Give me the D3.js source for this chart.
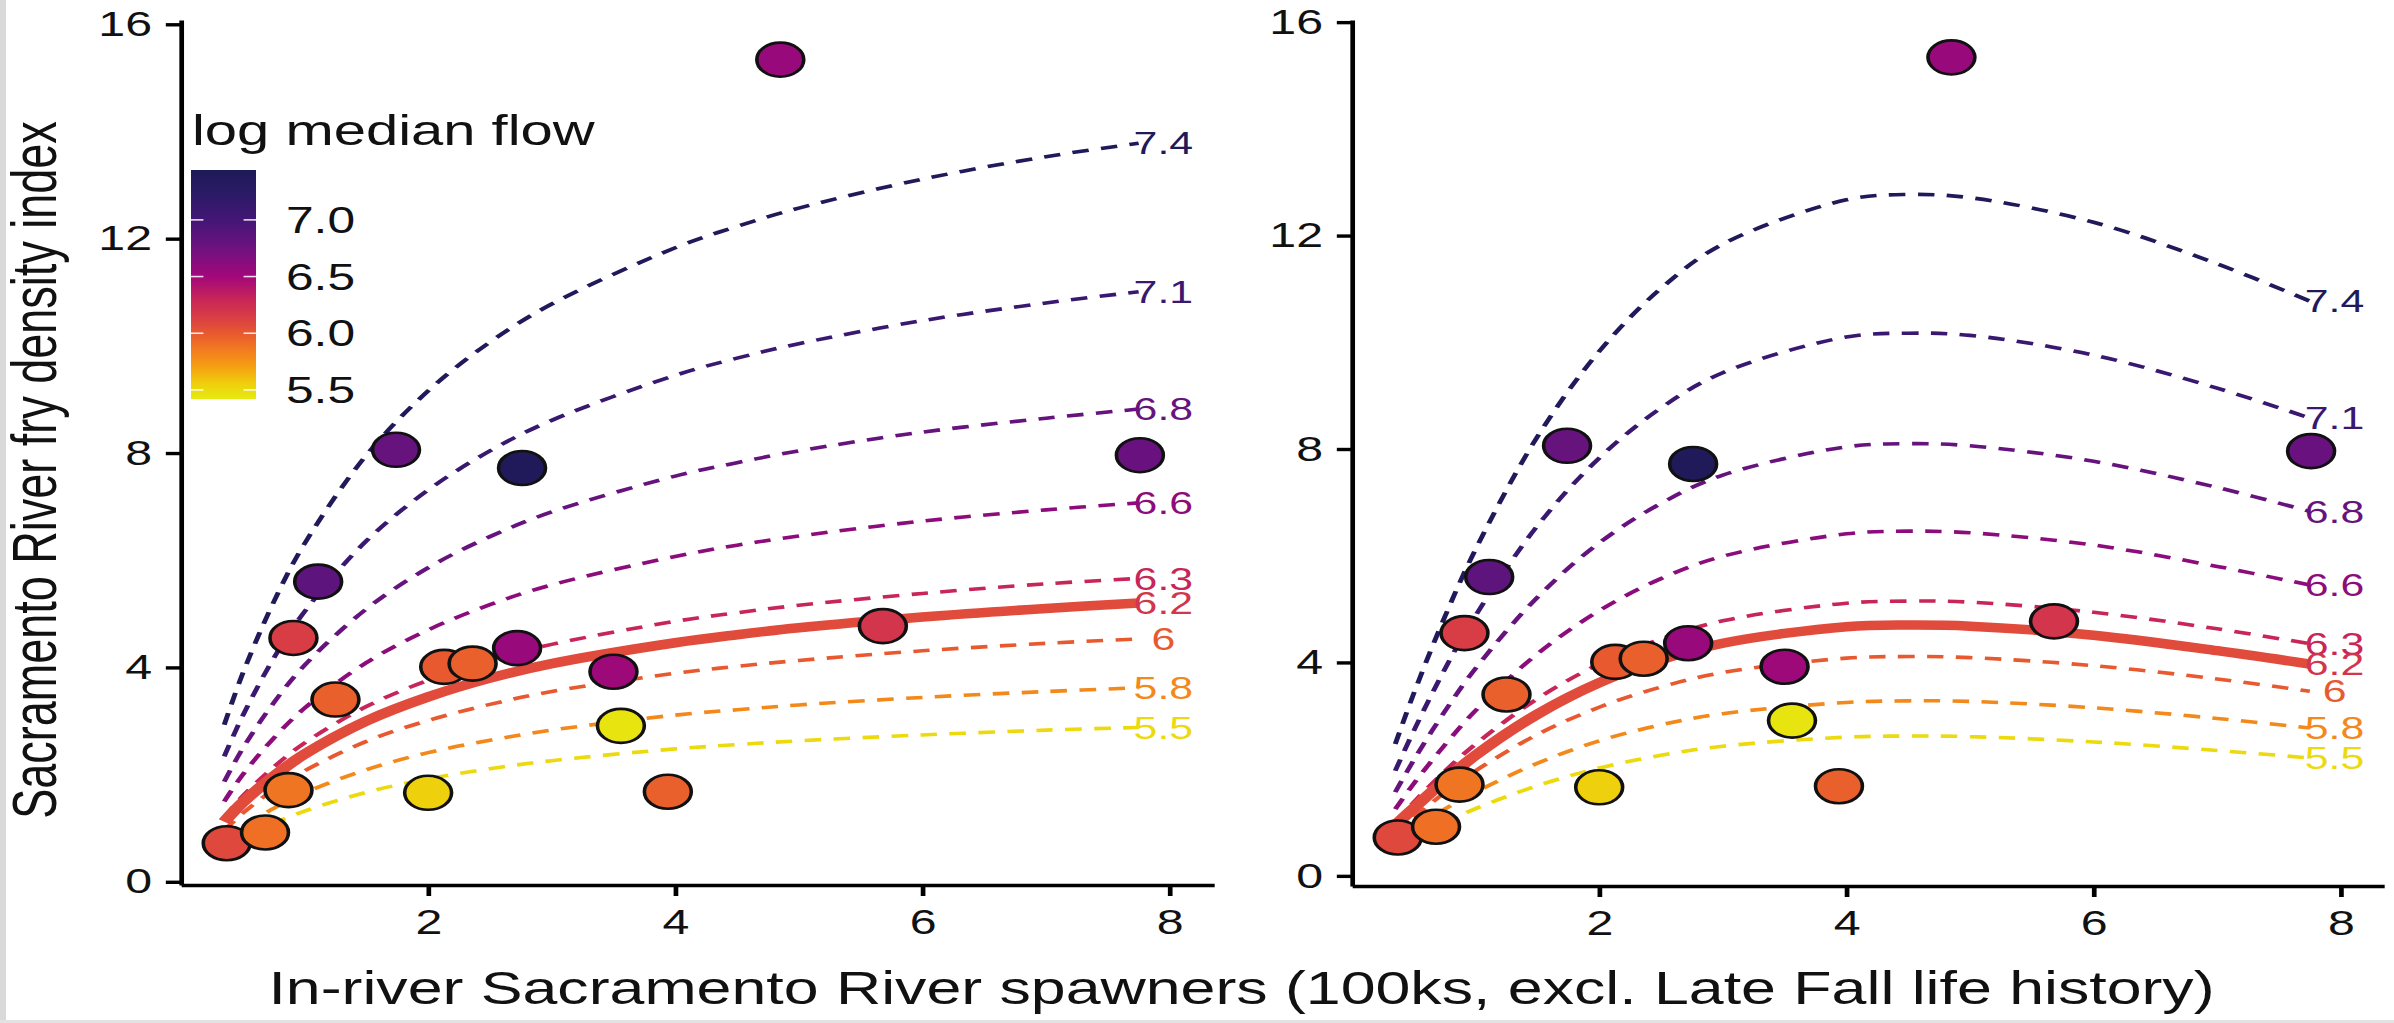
<!DOCTYPE html>
<html><head><meta charset="utf-8">
<script src="https://cdn.jsdelivr.net/npm/d3@7"></script>
<style>
html,body{margin:0;padding:0;background:#fff;overflow:hidden}
svg{display:block}
text{font-family:"Liberation Sans", Arial, Helvetica, sans-serif}
</style></head><body>
<svg id="chart"></svg>
<script>
// ---------------- DATA ----------------
// observed points (x: in-river spawners, 100ks; y: fry density index; colour: log median flow)
const spawners   = [0.37,0.68,0.87,0.91,1.11,1.25,1.74,2.76,2.00,2.13,2.36,2.72,3.50,3.56,3.94,5.68,7.76,4.85];
const fryDensity = [0.72,0.92,1.71,4.55,5.60,3.40,8.06,7.72,1.66,4.01,4.07,4.36,3.92,2.91,1.68,4.77,7.96,15.34];
const logFlow    = [6.08,5.90,5.88,6.15,6.85,5.97,6.80,7.40,5.55,6.00,5.97,6.55,6.52,5.45,5.97,6.20,6.78,6.55];

// fitted curves (sampled read-off values)
const curveX = [0.35,0.5,0.75,1,1.5,2,2.5,3,4,4.5,5,6,7,7.75];
const curveFlows = ["7.4","7.1","6.8","6.6","6.3","6.2","6","5.8","5.5"];
const medianFlow = "6.2";
const leftCurves = [
  [2.93,3.89,5.22,6.31,7.96,9.16,10.07,10.78,11.83,12.23,12.57,13.11,13.53,13.78],
  [2.34,3.10,4.17,5.04,6.36,7.31,8.04,8.61,9.45,9.77,10.04,10.47,10.80,11.01],
  [1.87,2.49,3.34,4.04,5.09,5.86,6.44,6.90,7.57,7.82,8.04,8.39,8.65,8.82],
  [1.50,2.00,2.68,3.24,4.09,4.70,5.17,5.54,6.07,6.28,6.45,6.73,6.94,7.07],
  [1.20,1.60,2.14,2.59,3.27,3.76,4.14,4.43,4.86,5.02,5.16,5.38,5.56,5.66],
  [1.12,1.48,1.97,2.38,3.00,3.45,3.80,4.07,4.46,4.61,4.74,4.94,5.10,5.20],
  [0.96,1.28,1.72,2.07,2.62,3.01,3.31,3.55,3.89,4.02,4.13,4.31,4.45,4.53],
  [0.77,1.02,1.37,1.66,2.09,2.41,2.64,2.83,3.11,3.21,3.30,3.44,3.55,3.62],
  [0.61,0.81,1.09,1.32,1.67,1.92,2.11,2.26,2.48,2.56,2.63,2.74,2.83,2.88]
];
const rightCurves = [
  [2.47,3.42,4.85,6.12,8.23,9.83,11.01,11.84,12.67,12.77,12.71,12.25,11.47,10.77],
  [1.97,2.72,3.87,4.88,6.56,7.83,8.77,9.43,10.10,10.17,10.13,9.76,9.14,8.58],
  [1.57,2.17,3.08,3.89,5.22,6.24,6.98,7.51,8.04,8.10,8.06,7.77,7.28,6.83],
  [1.25,1.73,2.45,3.10,4.16,4.97,5.57,5.99,6.41,6.46,6.43,6.20,5.80,5.45],
  [1.00,1.38,1.96,2.47,3.32,3.97,4.44,4.78,5.11,5.15,5.13,4.94,4.63,4.35],
  [0.95,1.27,1.79,2.26,3.03,3.62,4.05,4.36,4.67,4.70,4.68,4.51,4.22,3.97],
  [0.80,1.10,1.56,1.97,2.65,3.16,3.54,3.81,4.08,4.11,4.09,3.94,3.69,3.46],
  [0.64,0.88,1.25,1.57,2.11,2.53,2.83,3.04,3.25,3.28,3.27,3.15,2.95,2.77],
  [0.51,0.70,1.00,1.26,1.69,2.02,2.26,2.43,2.60,2.62,2.61,2.51,2.35,2.21]
];

const yTicks = [0,4,8,12,16];
const xTicks = [2,4,6,8];
const legendTicks = [5.5,6.0,6.5,7.0];
const legendTitle = "log median flow";
const xTitle = "In-river Sacramento River spawners (100ks, excl. Late Fall life history)";
const yTitle = "Sacramento River fry density index";

// colour ramp for log median flow
const flowStops  = [5.42,5.55,5.70,5.85,6.00,6.10,6.30,6.50,6.75,7.00,7.20,7.44];
const flowColors = ["#e6ea10","#efd00c","#f6a011","#f27c20","#e8592f","#dd4540","#c82558","#a2087a","#6e1280","#441676","#2e1a68","#1d1a58"];

// ---------------- LAYOUT ----------------
const W = 2394, H = 1023, S = 1.38;   // reference is horizontally stretched by S
const VW = W / S;
const svg = d3.select("#chart").attr("width", W).attr("height", H)
  .attr("viewBox", `0 0 ${VW} ${H}`).attr("preserveAspectRatio", "none");

svg.append("rect").attr("width", VW).attr("height", H).attr("fill", "#fff");
svg.append("rect").attr("x", 0).attr("y", 0).attr("width", 6 / S).attr("height", H).attr("fill", "#d9d9d9");
svg.append("rect").attr("x", 0).attr("y", 1020).attr("width", VW).attr("height", 3).attr("fill", "#e2e2e2");

const color = d3.scaleLinear().domain(flowStops).range(flowColors).interpolate(d3.interpolateRgb).clamp(true);

const panels = [
  { curves: leftCurves,
    x: d3.scaleLinear().domain([0, 8.36]).range([181 / S, 1214 / S]),
    y: d3.scaleLinear().domain([-0.06, 16.08]).range([885, 20]), legend: true },
  { curves: rightCurves,
    x: d3.scaleLinear().domain([0, 8.35]).range([1352 / S, 2384 / S]),
    y: d3.scaleLinear().domain([-0.19, 16.04]).range([886, 20]), legend: false }
];

const FONT = "Liberation Sans, Arial, sans-serif";

panels.forEach(p => {
  const g = svg.append("g");
  const { x, y } = p;

  // axes
  const ax = g.append("g").attr("transform", `translate(0,${y.range()[0]})`)
    .call(d3.axisBottom(x).tickValues(xTicks).tickFormat(d3.format("d")).tickSize(11).tickSizeOuter(0).tickPadding(13));
  const ay = g.append("g").attr("transform", `translate(${x.range()[0]},0)`)
    .call(d3.axisLeft(y).tickValues(yTicks).tickFormat(d3.format("d")).tickSize(11).tickSizeOuter(0).tickPadding(10));
  [ax, ay].forEach(a => {
    a.attr("color", "#000");
    a.selectAll("path.domain").attr("stroke-width", 3.4);
    a.selectAll(".tick line").attr("stroke-width", 3.4);
    a.selectAll(".tick text").attr("font-size", 35).attr("font-family", FONT).attr("fill", "#111");
  });

  // curves
  const line = d3.line().x((d, i) => x(curveX[i])).y(d => y(d)).curve(d3.curveCatmullRom);
  const dashedIdx = curveFlows.map((f, i) => i).filter(i => curveFlows[i] !== medianFlow);
  const medIdx = curveFlows.indexOf(medianFlow);

  g.append("g").selectAll("path").data(dashedIdx).join("path")
    .attr("d", i => line(p.curves[i]))
    .attr("fill", "none")
    .attr("stroke", i => color(+curveFlows[i]))
    .attr("stroke-width", 3.6)
    .attr("stroke-dasharray", "12,9");

  g.append("path").attr("d", line(p.curves[medIdx]))
    .attr("fill", "none").attr("stroke", "#e04b3c").attr("stroke-width", 9.5);

  // curve labels
  g.append("g").selectAll("text").data(curveFlows).join("text")
    .attr("x", x(7.95))
    .attr("y", (f, i) => y(p.curves[i][p.curves[i].length - 1]))
    .attr("dy", "0.36em")
    .attr("text-anchor", "middle")
    .attr("font-size", 31).attr("font-family", FONT)
    .attr("fill", f => color(+f))
    .text(f => f);

  // points
  g.append("g").selectAll("circle").data(spawners).join("circle")
    .attr("cx", d => x(d))
    .attr("cy", (d, i) => y(fryDensity[i]))
    .attr("r", 17)
    .attr("fill", (d, i) => color(logFlow[i]))
    .attr("stroke", "#111").attr("stroke-width", 2.6);

  // legend
  if (p.legend) {
    const lg = svg.append("g");
    const ly = d3.scaleLinear().domain([5.42, 7.44]).range([399, 170]);
    const bx0 = 191 / S, bx1 = 256 / S;
    const grad = svg.append("defs").append("linearGradient").attr("id", "flowgrad")
      .attr("x1", 0).attr("y1", 1).attr("x2", 0).attr("y2", 0);
    grad.selectAll("stop").data(flowStops).join("stop")
      .attr("offset", d => (d - 5.42) / (7.44 - 5.42))
      .attr("stop-color", (d, i) => flowColors[i]);
    lg.append("rect").attr("x", bx0).attr("y", ly(7.44)).attr("width", bx1 - bx0)
      .attr("height", ly(5.42) - ly(7.44)).attr("fill", "url(#flowgrad)");
    legendTicks.forEach(t => {
      lg.append("line").attr("x1", bx0).attr("x2", bx0 + 9).attr("y1", ly(t)).attr("y2", ly(t))
        .attr("stroke", "#fff").attr("stroke-width", 1.6).attr("opacity", 0.85);
      lg.append("line").attr("x1", bx1 - 9).attr("x2", bx1).attr("y1", ly(t)).attr("y2", ly(t))
        .attr("stroke", "#fff").attr("stroke-width", 1.6).attr("opacity", 0.85);
    });
    lg.selectAll("text.lt").data(legendTicks).join("text").attr("class", "lt")
      .attr("x", 286 / S).attr("y", d => ly(d)).attr("dy", "0.36em")
      .attr("font-size", 36).attr("font-family", FONT).attr("fill", "#111")
      .text(d => d3.format(".1f")(d));
    lg.append("text").attr("x", 192 / S).attr("y", 145)
      .attr("font-size", 42).attr("font-family", FONT).attr("fill", "#111")
      .text(legendTitle);
  }
});

// axis titles
svg.append("text").attr("x", 1241.5 / S).attr("y", 1004)
  .attr("text-anchor", "middle").attr("font-size", 45.4).attr("font-family", FONT).attr("fill", "#111")
  .text(xTitle);
svg.append("text").attr("transform", `translate(${56 / S},470) rotate(-90)`)
  .attr("text-anchor", "middle").attr("font-size", 45).attr("font-family", FONT).attr("fill", "#111")
  .text(yTitle);
</script>
</body></html>
